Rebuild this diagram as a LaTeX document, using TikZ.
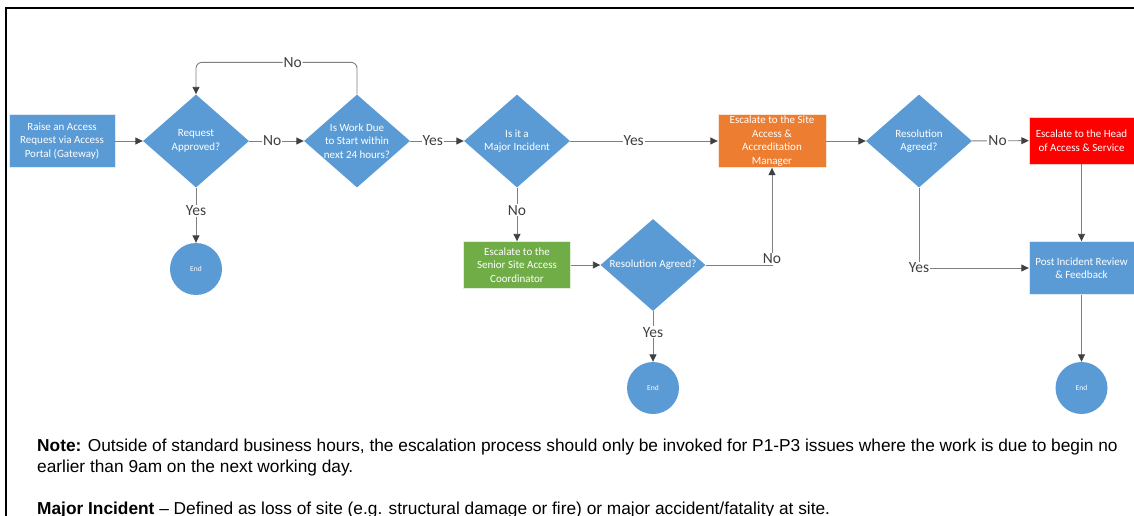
\documentclass[tikz,border=0pt]{standalone}
\usepackage{fontspec}
\setmainfont{Carlito}
\newfontfamily\notefont{Liberation Sans}
\usetikzlibrary{shapes.geometric,arrows.meta,positioning}
\definecolor{fblue}{HTML}{5B9BD5}
\definecolor{forange}{HTML}{ED7D31}
\definecolor{fgreen}{HTML}{70AD47}
\definecolor{fred}{HTML}{FF0000}
\definecolor{lgray}{HTML}{7F7F7F}
\definecolor{dgray}{HTML}{404040}
\tikzset{
  box/.style={rectangle, fill=fblue, draw=white!80!fblue, text=white, align=center,
    font=\fontsize{11}{13.5}\selectfont, minimum width=106pt, minimum height=53pt, inner sep=1pt},
  dia/.style={diamond, fill=fblue, minimum width=106pt, minimum height=93pt, inner sep=0pt},
  intext/.style={text=white, align=center, font=\fontsize{11}{13.5}\selectfont, inner sep=0pt},
  stop/.style={circle, fill=fblue, text=white, minimum size=52pt, inner sep=0pt,
    font=\fontsize{7.5}{8}\selectfont},
  arr/.style={draw=lgray, line width=0.9pt,
    -{Triangle[length=7.5pt,width=7pt,color=dgray]}},
  lab/.style={fill=white, text=dgray, inner sep=1pt, font=\fontsize{15.5}{16}\selectfont},
  note/.style={anchor=base west, inner sep=0pt, font=\notefont\fontsize{17.3}{21}\selectfont}
}
\begin{document}
\begin{tikzpicture}[x=1pt,y=-1pt]
  \useasboundingbox (0,0) rectangle (1134,515);
  \draw[line width=1.5pt] (6,530) -- (6,8) -- (1145,8);
  % top row
  \node[box] (raise) at (62,141) {Raise an Access\\Request via Access\\Portal (Gateway)};
  \node[dia, label={[intext]center:Request\\Approved?}] (req) at (196,141) {};
  \node[dia, label={[intext]center:Is Work Due\\to Start within\\next 24 hours?}] (due) at (357,141) {};
  \node[dia, label={[intext]center:Is it a\\Major Incident}] (major) at (517,141) {};
  \node[box, fill=forange, draw=white!80!forange, minimum width=108pt] (sam) at (772,141)
    {Escalate to the Site\\Access \&\\Accreditation\\Manager};
  \node[dia, label={[intext]center:Resolution\\Agreed?}] (res1) at (919,141) {};
  \node[box, fill=fred, draw=white!80!fred, minimum width=105pt, minimum height=47pt] (head) at (1081.5,140.5)
    {Escalate to the Head\\of Access \& Service};
  % lower part
  \node[stop] (end1) at (196,269) {End};
  \node[box, fill=fgreen, draw=white!80!fgreen, minimum width=107pt, minimum height=47pt] (ssac) at (517,265)
    {Escalate to the\\Senior Site Access\\Coordinator};
  \node[dia, minimum width=105pt, minimum height=92pt,
    label={[intext]center:Resolution Agreed?}] (res2) at (653,265) {};
  \node[stop] (end2) at (653,388) {End};
  \node[box, minimum width=105pt] (post) at (1081.5,268) {Post Incident Review\\\& Feedback};
  \node[stop] (end3) at (1081.5,388) {End};
  % connectors
  \draw[arr] (raise) -- (req);
  \draw[arr] (req) -- node[lab, pos=0.42]{No} (due);
  \draw[arr, rounded corners=6pt] (due.north) -- ++(0,-32) -| node[lab, pos=0.2]{No} (req.north);
  \draw[arr] (req) -- node[lab, pos=0.42]{Yes} (end1);
  \draw[arr] (due) -- node[lab, pos=0.42]{Yes} (major);
  \draw[arr] (major) -- node[lab, pos=0.43]{Yes} (sam);
  \draw[arr] (major) -- node[lab, pos=0.42]{No} (ssac);
  \draw[arr] (ssac) -- (res2);
  \draw[arr] (res2) -- node[lab, pos=0.42]{Yes} (end2);
  \draw[arr] (res2.east) -| node[lab, pos=0.5, yshift=6pt]{No} (sam.south);
  \draw[arr] (sam) -- (res1);
  \draw[arr] (res1) -- node[lab, pos=0.45]{No} (head);
  \draw[arr] (res1.south) |- node[lab, pos=0.5]{Yes} (post.west);
  \draw[arr] (head) -- (post);
  \draw[arr] (post) -- (end3);
  % notes
  \node[note] (note1) at (37,451) {\textbf{Note:} Outside of standard business hours, the escalation process should only be invoked for P1-P3 issues where the work is due to begin no};
  \node[note] (note2) at (37,472) {earlier than 9am on the next working day.};
  \node[note] (note3) at (37,514) {\textbf{Major Incident} \textendash{} Defined as loss of site (e.g. structural damage or fire) or major accident/fatality at site.};
\end{tikzpicture}
\end{document}
